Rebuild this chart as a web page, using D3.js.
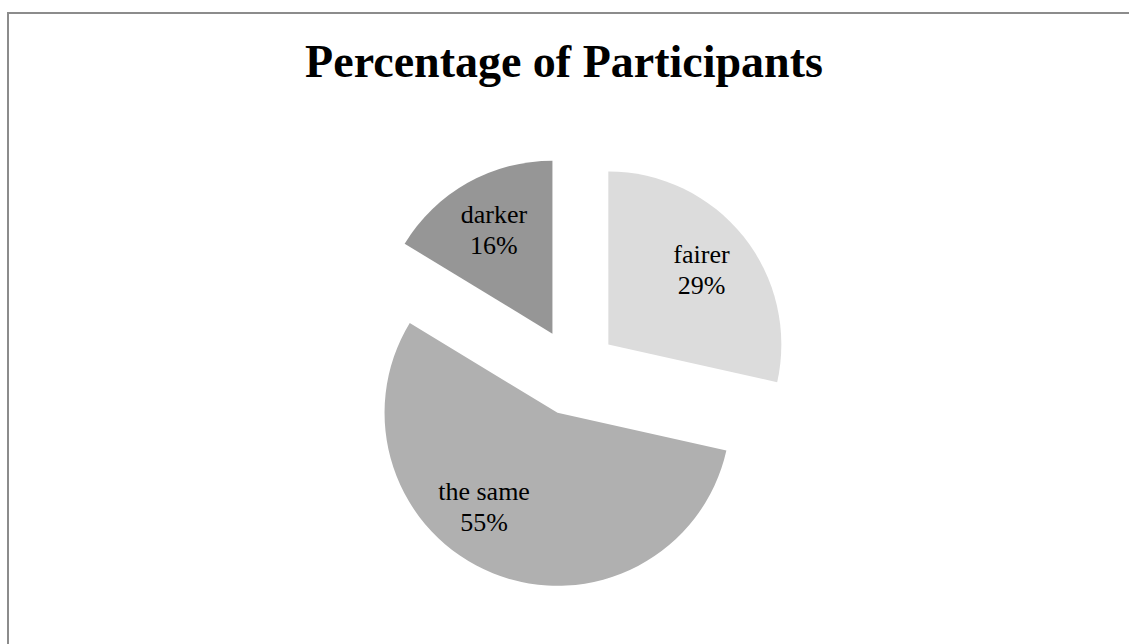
<!DOCTYPE html>
<html>
<head>
<meta charset="utf-8">
<script src="https://cdn.jsdelivr.net/npm/d3@7"></script>
<style>
  html, body { margin: 0; padding: 0; background: #fff; overflow: hidden; }
</style>
</head>
<body>
<script>
// data
const categories = ["fairer", "the same", "darker"];
const values = [28.5, 55.2, 16.3];
const pctLabels = ["29%", "55%", "16%"];
const colors = ["#dcdcdc", "#b0b0b0", "#969696"];

(()=>{
    const width = 1129;
    const height = 644;

    const cx = 574, cy = 372;   // pie centre before explode
    const radius = 173;
    const explode = 44;

    const svg = d3.select("body").append("svg")
        .attr("width", width)
        .attr("height", height)
        .attr("viewBox", [0, 0, width, height]);

    svg.append("rect").attr("width", width).attr("height", height).attr("fill", "#fff");

    // frame of the chart area (runs off right/bottom)
    svg.append("rect")
        .attr("x", 8).attr("y", 13)
        .attr("width", 1300).attr("height", 800)
        .attr("fill", "none")
        .attr("stroke", "#8c8c8c")
        .attr("stroke-width", 2);

    svg.append("text")
        .attr("x", 564)
        .attr("y", 77)
        .attr("text-anchor", "middle")
        .attr("font-family", "'Liberation Serif', 'Times New Roman', serif")
        .attr("font-weight", "bold")
        .attr("font-size", "46px")
        .attr("fill", "#000")
        .text("Percentage of Participants");

    const pie = d3.pie().sort(null).value(d => d)(values);
    const arc = d3.arc().innerRadius(0).outerRadius(radius);

    const g = svg.append("g").attr("transform", `translate(${cx},${cy})`);

    const slices = g.selectAll("g.slice")
        .data(pie)
        .join("g")
        .attr("class", "slice")
        .attr("transform", d => {
            const a = (d.startAngle + d.endAngle) / 2;
            return `translate(${explode * Math.sin(a)},${-explode * Math.cos(a)})`;
        });

    slices.append("path")
        .attr("d", arc)
        .attr("fill", (d, i) => colors[i]);

    // data labels (best-fit moves the big one round a bit)
    const labelR = radius * 0.69;
    const shift = [0, 0.28, 0];
    const lab = slices.append("text")
        .attr("font-family", "'Liberation Serif', 'Times New Roman', serif")
        .attr("font-size", "26px")
        .attr("fill", "#000")
        .attr("text-anchor", "middle")
        .attr("transform", (d, i) => {
            const a = (d.startAngle + d.endAngle) / 2 + shift[i];
            return `translate(${labelR * Math.sin(a)},${-labelR * Math.cos(a)})`;
        });

    lab.append("tspan").attr("x", 0).attr("y", -7).text((d, i) => categories[i]);
    lab.append("tspan").attr("x", 0).attr("y", 24).text((d, i) => pctLabels[i]);
})()
</script>
</body>
</html>
